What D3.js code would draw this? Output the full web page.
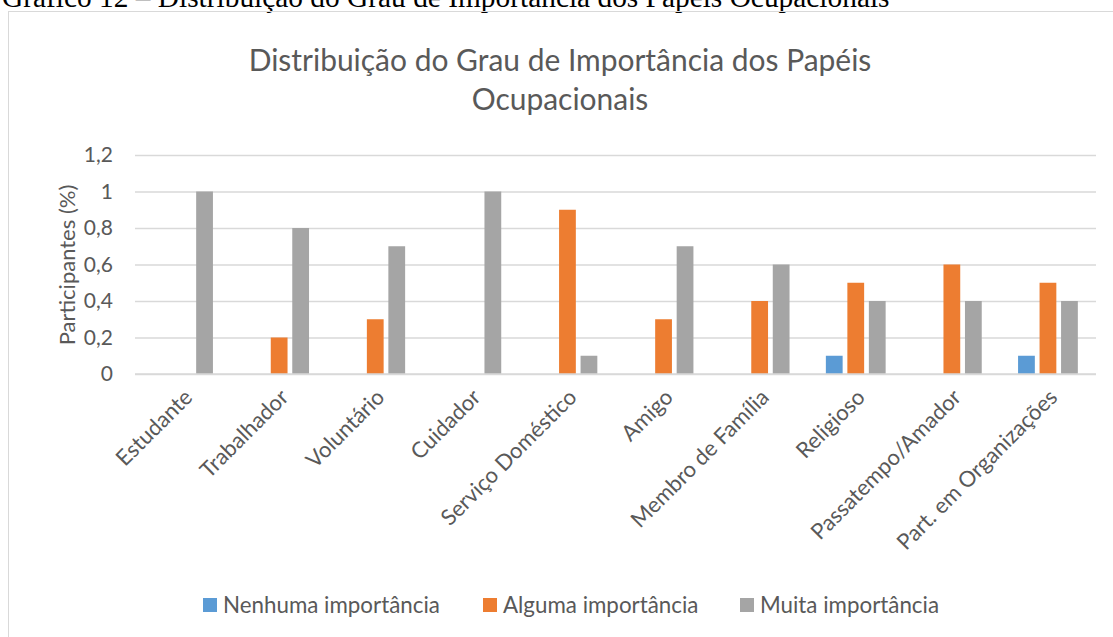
<!DOCTYPE html>
<html>
<head>
<meta charset="utf-8">
<script src="https://cdn.jsdelivr.net/npm/d3@7"></script>
<style>
  body { margin: 0; background: #fff; }
  svg { display: block; }
</style>
</head>
<body>
<svg id="chart"></svg>
<script>
const width = 1113;
const height = 637;

// data
const categories = ["Estudante", "Trabalhador", "Voluntário", "Cuidador", "Serviço Doméstico",
                    "Amigo", "Membro de Família", "Religioso", "Passatempo/Amador", "Part. em Organizações"];
const seriesNames = ["Nenhuma importância", "Alguma importância", "Muita importância"];
const nenhuma = [0, 0, 0, 0, 0, 0, 0, 0.1, 0, 0.1];
const alguma  = [0, 0.2, 0.3, 0, 0.9, 0.3, 0.4, 0.5, 0.6, 0.5];
const muita   = [1, 0.8, 0.7, 1, 0.1, 0.7, 0.6, 0.4, 0.4, 0.4];
const yTicks  = [0, 0.2, 0.4, 0.6, 0.8, 1, 1.2];
const colors  = ["#5B9BD5", "#ED7D31", "#A5A5A5"];

const caption = "Gráfico 12 – Distribuição do Grau de Importância dos Papéis Ocupacionais";
const titleLines = ["Distribuição do Grau de Importância dos Papéis", "Ocupacionais"];
const yLabel = "Participantes (%)";

const seriesValues = [nenhuma, alguma, muita];
const textColor = "#595959";
const font = "Lato, 'Open Sans', sans-serif";

const svg = d3.select("#chart")
  .attr("width", width)
  .attr("height", height);

const plot = { left: 135, right: 1096, top: 155, bottom: 374 };

// document caption above the chart box (cut at the top, as in the page scan)
const cap = svg.append("text")
  .text(caption)
  .attr("x", 2)
  .attr("y", 7)
  .attr("font-family", "'Liberation Serif', 'Times New Roman', serif")
  .attr("font-size", 30)
  .attr("fill", "#000");
let capW = cap.node().getComputedTextLength();
cap.attr("font-size", 30 * 888 / capW);

// chart frame
svg.append("rect")
  .attr("x", 8.5)
  .attr("y", 11.5)
  .attr("width", width + 20)
  .attr("height", height + 20)
  .attr("fill", "none")
  .attr("stroke", "#d9d9d9")
  .attr("stroke-width", 1);

// title
const title = svg.append("text")
  .attr("text-anchor", "middle")
  .attr("font-family", font)
  .attr("font-size", 30)
  .attr("fill", textColor);
title.selectAll("tspan")
  .data(titleLines)
  .enter()
  .append("tspan")
    .attr("x", 560)
    .attr("y", (d, i) => 71 + i * 39)
    .text(d => d);
let firstW = title.select("tspan").node().getComputedTextLength();
title.attr("font-size", 30 * 623 / firstW);

const x0 = d3.scaleBand()
  .domain(categories)
  .range([plot.left, plot.right]);
const groupW = 64.5;
const x1 = d3.scaleBand()
  .domain(seriesNames)
  .range([x0.bandwidth() / 2 - groupW / 2, x0.bandwidth() / 2 + groupW / 2])
  .paddingInner(0.22)
  .paddingOuter(0.11);
const yScale = d3.scaleLinear()
  .domain([0, 1.2])
  .range([plot.bottom, plot.top]);

const locale = d3.formatLocale({ decimal: ",", thousands: ".", grouping: [3], currency: ["", ""] });
const fmt = locale.format("~g");

// gridlines + y labels
const yAxis = d3.axisLeft(yScale)
  .tickValues(yTicks)
  .tickSize(-(plot.right - plot.left))
  .tickPadding(22)
  .tickFormat(fmt);
const gy = svg.append("g")
  .attr("transform", `translate(${plot.left}, 0)`)
  .call(yAxis);
gy.select(".domain").remove();
gy.selectAll(".tick line")
  .attr("stroke", "#d9d9d9")
  .attr("stroke-width", 1.3);
gy.selectAll(".tick text")
  .attr("font-family", font)
  .attr("font-size", 21)
  .attr("fill", textColor);

svg.append("text")
  .text(yLabel)
  .attr("transform", "rotate(-90)")
  .attr("x", -265)
  .attr("y", 75)
  .attr("text-anchor", "middle")
  .attr("font-family", font)
  .attr("font-size", 22)
  .attr("fill", textColor);

// bars
const rows = categories.map((c, i) => ({
  cat: c,
  vals: seriesNames.map((s, j) => ({ series: s, idx: j, value: seriesValues[j][i] }))
}));

const groups = svg.append("g")
  .selectAll("g")
  .data(rows)
  .enter()
  .append("g")
    .attr("transform", d => `translate(${x0(d.cat)}, 0)`);

groups.selectAll("rect")
  .data(d => d.vals.filter(v => v.value > 0))
  .enter()
  .append("rect")
    .attr("x", d => x1(d.series))
    .attr("y", d => yScale(d.value))
    .attr("width", x1.bandwidth())
    .attr("height", d => yScale(0) - yScale(d.value))
    .attr("fill", d => colors[d.idx]);

// baseline
svg.append("line")
  .attr("x1", plot.left)
  .attr("x2", plot.right)
  .attr("y1", yScale(0))
  .attr("y2", yScale(0))
  .attr("stroke", "#d9d9d9")
  .attr("stroke-width", 1.5);

// category labels, rotated
svg.append("g")
  .selectAll("text")
  .data(categories)
  .enter()
  .append("text")
    .text(d => d)
    .attr("transform", d => `translate(${x0(d) + x0.bandwidth() / 2 - 1}, 387) rotate(-45)`)
    .attr("text-anchor", "end")
    .attr("dy", "0.75em")
    .attr("font-family", font)
    .attr("font-size", 22)
    .attr("fill", textColor);

// legend
const legendX = [203, 483, 740];
const legend = svg.append("g")
  .selectAll("g")
  .data(seriesNames)
  .enter()
  .append("g")
    .attr("transform", (d, i) => `translate(${legendX[i]}, 598)`);
legend.append("rect")
  .attr("width", 14)
  .attr("height", 14)
  .attr("fill", (d, i) => colors[i]);
const legText = legend.append("text")
  .text(d => d)
  .attr("x", 20)
  .attr("y", 7)
  .attr("dy", "0.36em")
  .attr("font-family", font)
  .attr("font-size", 20)
  .attr("fill", textColor);
let legW = legText.node().getComputedTextLength();
legText.attr("font-size", 20 * 217 / legW);
</script>
</body>
</html>
